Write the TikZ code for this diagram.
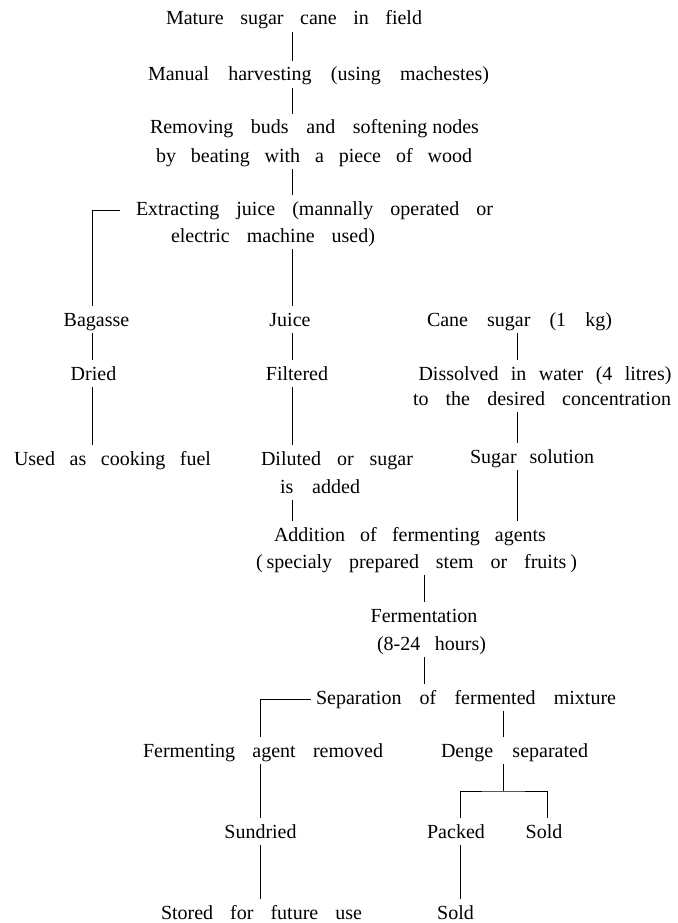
\documentclass[tikz,border=0pt]{standalone}
\usepackage{fontspec}
\setmainfont{Liberation Serif}
\usetikzlibrary{calc}
\newcommand{\sw}[2]{\makebox[#1pt][s]{#2}}
\begin{document}
\begin{tikzpicture}[x=1pt,y=-1pt,
  t/.style={inner sep=0pt, outer sep=0pt, text height=14pt, text depth=4pt, font=\fontsize{20}{24}\selectfont},
  conn/.style={line width=0.9pt, shorten <=3pt, shorten >=6pt},
  ln/.style={line width=0.9pt}]
\fill[white] (0,0) rectangle (677,923);
\useasboundingbox (0,0) rectangle (677,923);
% columns
\coordinate (cA) at (92,0);
\coordinate (cB) at (292,0);
\coordinate (cC) at (517,0);
\coordinate (cD) at (424,0);
\coordinate (cE) at (260,0);
\coordinate (cF) at (503,0);
\coordinate (cG) at (460,0);
\coordinate (cH) at (547,0);
\coordinate (jn) at (503,791);
% nodes
\node[t] (mat) at (294,20) {\sw{256}{Mature sugar cane in field}};
\node[t] (man) at (318.5,76) {\sw{341}{Manual harvesting (using machestes)}};
\node[t] (rem1) at (314.5,129) {\sw{329}{Removing buds and softening\hspace{5pt}nodes}};
\node[t] (rem2) at (314,157) {\sw{316}{by beating with a piece of wood}};
\node[t] (ext1) at (314.5,210) {\sw{357}{Extracting juice (mannally operated or}};
\node[t] (ext2) at (273,237) {\sw{204}{electric machine used)}};
\node[t] (bag) at (96.5,321) {Bagasse};
\node[t] (jui) at (290,321) {Juice};
\node[t] (cane) at (519.5,321) {\sw{185}{Cane sugar (1 kg)}};
\node[t] (dry) at (93.5,375) {Dried};
\node[t] (filt) at (297,375) {Filtered};
\node[t] (diss1) at (545,375) {\sw{253}{Dissolved in water (4 litres)}};
\node[t] (diss2) at (542,400) {\sw{258}{to the desired concentration}};
\node[t] (used) at (112.5,460) {\sw{197}{Used as cooking fuel}};
\node[t] (dil) at (337,460) {\sw{152}{Diluted or sugar}};
\node[t] (sol) at (532,458) {\sw{124}{Sugar solution}};
\node[t] (added) at (320,488) {\sw{80}{is added}};
\node[t] (add1) at (410,536) {\sw{272}{Addition of fermenting agents}};
\node[t] (add2) at (416.5,563) {\sw{321}{(\hspace{4pt}specialy prepared stem or fruits\hspace{4pt})}};
\node[t] (ferm) at (424,617) {Fermentation};
\node[t] (hrs) at (431.5,645) {\sw{109}{(8-24 hours)}};
\node[t] (sep) at (466,699) {\sw{300}{Separation of fermented mixture}};
\node[t] (agr) at (263,752) {\sw{240}{Fermenting agent removed}};
\node[t] (den) at (514.5,752) {\sw{147}{Denge separated}};
\node[t] (sun) at (260.5,833) {Sundried};
\node[t] (pack) at (456,833) {Packed};
\node[t] (sold1) at (544,833) {Sold};
\node[t] (sto) at (261.5,914) {\sw{201}{Stored for future use}};
\node[t] (sold2) at (455.5,914) {Sold};
% connectors
\draw[conn] (mat.south -| cB) -- (man.north -| cB);
\draw[conn] (man.south -| cB) -- (rem1.north -| cB);
\draw[conn] (rem2.south -| cB) -- (ext1.north -| cB);
\draw[ln] ($(ext1.west)+(-16,0)$) -| ($(bag.north -| cA)+(0,-6)$);
\draw[conn] (ext2.south -| cB) -- (jui.north -| cB);
\draw[conn] (bag.south -| cA) -- (dry.north -| cA);
\draw[conn] (jui.south -| cB) -- (filt.north -| cB);
\draw[conn] (cane.south -| cC) -- (diss1.north -| cC);
\draw[conn] (dry.south -| cA) -- (used.north -| cA);
\draw[conn] (filt.south -| cB) -- (dil.north -| cB);
\draw[conn] (diss2.south -| cC) -- (sol.north -| cC);
\draw[conn] (added.south -| cB) -- (add1.north -| cB);
\draw[conn] (sol.south -| cC) -- (add1.north -| cC);
\draw[conn] (add2.south -| cD) -- (ferm.north -| cD);
\draw[conn] (hrs.south -| cD) -- (sep.north -| cD);
\draw[ln] ($(sep.west)+(-5,0)$) -| ($(agr.north -| cE)+(0,-6)$);
\draw[conn] (sep.south -| cF) -- (den.north -| cF);
\draw[conn] (agr.south -| cE) -- (sun.north -| cE);
\draw[ln] ($(den.south -| cF)+(0,3)$) -- (jn);
\draw[ln] ($(pack.north -| cG)+(0,-6)$) |- (jn) -| ($(sold1.north -| cH)+(0,-6)$);
\draw[conn] (sun.south -| cE) -- (sto.north -| cE);
\draw[conn] (pack.south -| cG) -- (sold2.north -| cG);
\end{tikzpicture}
\end{document}
